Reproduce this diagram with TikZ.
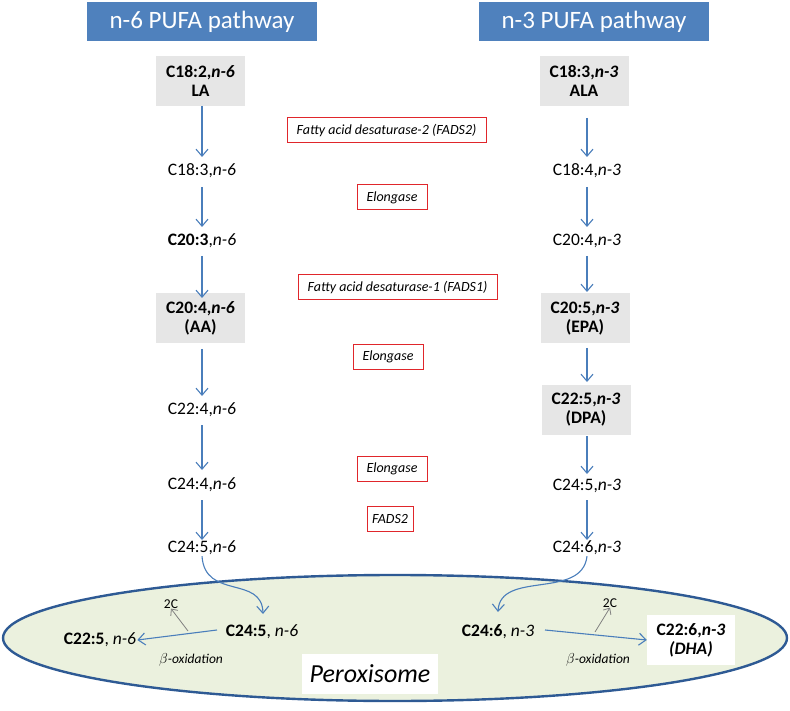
\documentclass[tikz,border=0pt]{standalone}
\usepackage{fontspec}
\setmainfont{Carlito}
\usetikzlibrary{arrows.meta,shapes.geometric}
\definecolor{hdr}{HTML}{4F81BD}
\definecolor{arrc}{HTML}{4A7EBB}
\definecolor{boxg}{HTML}{E6E6E6}
\definecolor{perfill}{HTML}{EBF1DE}
\definecolor{perline}{HTML}{2E5A94}
\definecolor{redb}{HTML}{E0262B}
\begin{document}
\begin{tikzpicture}[x=1pt,y=-1pt,
  header/.style={fill=hdr,text=white,minimum width=230,minimum height=39,inner sep=0,font=\fontsize{25}{28}\selectfont},
  acid/.style={font=\fontsize{17.5}{20}\selectfont,inner sep=1},
  keybox/.style={fill=boxg,minimum width=89,minimum height=50,inner sep=0,align=center,font=\fontsize{17.5}{19}\selectfont\bfseries},
  enz/.style={draw=redb,line width=1pt,inner sep=0,minimum height=25,font=\fontsize{14}{16}\selectfont\itshape},
  arr/.style={draw=arrc,line width=1.1pt,-{Straight Barb[length=7pt,width=12pt]}},
  garr/.style={draw=gray,line width=0.8pt,-{Straight Barb[length=5pt,width=9pt]}},
  small/.style={font=\fontsize{13.5}{15}\selectfont,inner sep=0}]
\useasboundingbox (0,0) rectangle (790,711);
% headers
\node[header] (h6) at (202,21.5) {n-6 PUFA pathway};
\node[header] (h3) at (594,21.5) {n-3 PUFA pathway};
% peroxisome
\node[ellipse,draw=perline,fill=perfill,line width=2.4pt,minimum width=784,minimum height=126,inner sep=0] (perox) at (395,638) {};
\node[fill=white,minimum width=136,minimum height=40,inner sep=0,font=\fontsize{26}{30}\selectfont\itshape] (pxl) at (370,674) {Peroxisome};
% n-6 chain
\node[keybox] (la) at (200.5,81) {C18:2,\textit{n-6}\\LA};
\node[acid] (a1) at (202,171) {C18:3,\textit{n-6}};
\node[acid] (a2) at (202,241) {\textbf{C20:3},\textit{n-6}};
\node[keybox] (aa) at (200.5,318.5) {C20:4,\textit{n-6}\\(AA)};
\node[acid] (a4) at (202,410) {C22:4,\textit{n-6}};
\node[acid] (a5) at (202,485) {C24:4,\textit{n-6}};
\node[acid] (a6) at (202,548) {C24:5,\textit{n-6}};
% n-3 chain
\node[keybox] (ala) at (584,81) {C18:3,\textit{n-3}\\ALA};
\node[acid] (b1) at (587,171) {C18:4,\textit{n-3}};
\node[acid] (b2) at (587,241) {C20:4,\textit{n-3}};
\node[keybox] (epa) at (585,318.5) {C20:5,\textit{n-3}\\(EPA)};
\node[keybox] (dpa) at (586,409.5) {C22:5,\textit{n-3}\\(DPA)};
\node[acid] (b5) at (587,486) {C24:5,\textit{n-3}};
\node[acid] (b6) at (587,548) {C24:6,\textit{n-3}};
% enzymes
\node[enz,minimum width=199] (e1) at (386.5,130.5) {Fatty acid desaturase-2 (FADS2)};
\node[enz,minimum width=70] (e2) at (392,197.5) {Elongase};
\node[enz,minimum width=199] (e3) at (397.5,287.5) {Fatty acid desaturase-1 (FADS1)};
\node[enz,minimum width=70] (e4) at (388,357) {Elongase};
\node[enz,minimum width=70] (e5) at (392,469) {Elongase};
\node[enz,minimum width=46] (e6) at (390,519) {FADS2};
% n-6 arrows
\draw[arr] (202,106) -- (202,157);
\draw[arr] (202,187) -- (202,227);
\draw[arr] (202,256) -- (202,298);
\draw[arr] (202,349) -- (202,396);
\draw[arr] (202,425) -- (202,470);
\draw[arr] (202,500) -- (202,540);
% n-3 arrows
\draw[arr] (587,118) -- (587,157);
\draw[arr] (587,187) -- (587,227);
\draw[arr] (587,256) -- (587,292);
\draw[arr] (587,348) -- (587,382);
\draw[arr] (587,436) -- (587,474);
\draw[arr] (587,500) -- (587,540);
% peroxisome contents
\node[acid] (p6) at (262,632) {\textbf{C24:5}, \textit{n-6}};
\node[acid] (q6) at (100,640) {\textbf{C22:5}, \textit{n-6}};
\node[small] (c6) at (171,604) {2C};
\node[small] (o6) at (191,660) {$\beta$\textit{-oxidation}};
\node[acid] (p3) at (498,632) {\textbf{C24:6}, \textit{n-3}};
\node[fill=white,minimum width=88,minimum height=50,inner sep=0,align=center,font=\fontsize{17.5}{19}\selectfont\bfseries] (dha) at (691,640) {C22:6,\textit{n-3}\\\textit{(DHA)}};
\node[small] (c3) at (610,603) {2C};
\node[small] (o3) at (598,660) {$\beta$\textit{-oxidation}};
\draw[arr] (217,630) -- (q6.east);
\draw[garr] (188,631) -- (c6.south);
\draw[arr] (545,630) -- (dha.west);
\draw[garr] (595,632) -- (c3.south);
% entering arrows
\draw[arr] (a6.south) .. controls (205,600) and (262,575) .. (263,614);
\draw[arr] (b6.south) .. controls (582,600) and (500,570) .. (498,612);
\end{tikzpicture}
\end{document}
